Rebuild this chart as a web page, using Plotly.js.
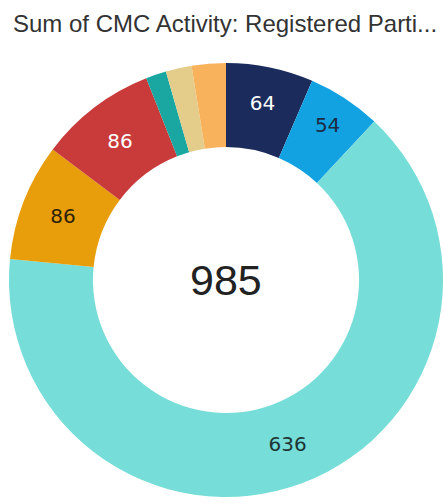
<!DOCTYPE html>
<html>
<head>
<meta charset="utf-8">
<script src="https://cdn.plot.ly/plotly-3.0.1.min.js"></script>
<style>
html,body{margin:0;padding:0;background:#fff;overflow:hidden;}
#chart{width:443px;height:504px;}
</style>
</head>
<body>
<div id="chart"></div>
<script>
// Data
const categories = ["A", "B", "C", "D", "E", "F", "G", "H"];
const values = [64, 54, 636, 86, 86, 15, 19, 25];
const sliceColors = ["#1b2c5c", "#12a2e2", "#76ddd8", "#e89e0b", "#c93a3a", "#1aa7a1", "#e4cd8b", "#f9b25c"];
const labelTemplates = ["%{value}", "%{value}", "%{value}", "%{value}", "%{value}", "", "", ""];
const labelColors = ["#ffffff", "#1c2b45", "#1d3535", "#2e2208", "#ffffff", "#222222", "#222222", "#222222"];
const totalLabel = "985";
const titleText = "Sum of CMC Activity: Registered Parti...";

const trace = {
  type: "pie",
  labels: categories,
  values: values,
  hole: 0.613,
  sort: false,
  direction: "clockwise",
  rotation: 0,
  marker: {colors: sliceColors, line: {width: 0}},
  texttemplate: labelTemplates,
  textposition: "inside",
  insidetextorientation: "horizontal",
  textfont: {family: "DejaVu Sans", size: 20, color: labelColors},
  hoverinfo: "label+value",
  showlegend: false
};

const layout = {
  width: 443,
  height: 504,
  margin: {l: 9, r: 0, t: 63, b: 7, pad: 0},
  paper_bgcolor: "#ffffff",
  plot_bgcolor: "#ffffff",
  showlegend: false,
  title: {
    text: titleText,
    x: 13 / 443,
    xref: "container",
    xanchor: "left",
    y: 1 - 24 / 504,
    yref: "container",
    yanchor: "middle",
    font: {family: "Liberation Sans, Arial, sans-serif", size: 24, color: "#333333"}
  },
  annotations: [{
    text: totalLabel,
    x: 0.5, y: 0.5,
    xref: "paper", yref: "paper",
    xanchor: "center", yanchor: "middle",
    showarrow: false,
    font: {family: "Liberation Sans, Arial, sans-serif", size: 43, color: "#222222"}
  }]
};

Plotly.newPlot("chart", [trace], layout, {displayModeBar: false, staticPlot: true});
</script>
</body>
</html>
